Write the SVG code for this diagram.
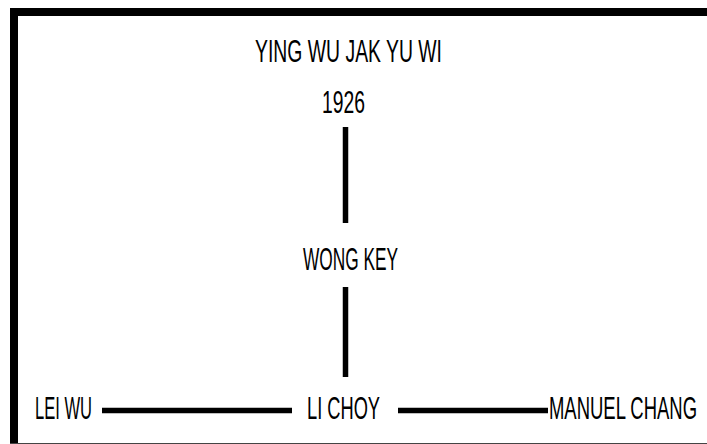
<svg xmlns="http://www.w3.org/2000/svg" width="707" height="444" viewBox="0 0 707 444">
<style>
.t{font-family:"Liberation Sans","DejaVu Sans",sans-serif;font-size:31px;fill:#000}
.c{stroke:#000;stroke-width:5.5;fill:none}
</style>
<rect x="0" y="0" width="707" height="444" fill="#fff"/>
<g id="frame">
<rect x="10" y="8" width="697" height="8" fill="#000"/>
<rect x="10" y="8" width="8" height="436" fill="#000"/>
<line x1="10" y1="443.5" x2="707" y2="443.5" stroke="#444" stroke-width="1"/>
</g>
<g id="connectors">
<line class="c" x1="345.5" y1="127" x2="345.5" y2="223"/>
<line class="c" x1="345.5" y1="287" x2="345.5" y2="377"/>
<line class="c" x1="102" y1="410.5" x2="292" y2="410.5"/>
<line class="c" x1="398" y1="410.5" x2="548" y2="410.5"/>
</g>
<g id="ying"><text class="t" x="255" y="62" textLength="187" lengthAdjust="spacingAndGlyphs">YING WU JAK YU WI</text></g>
<g id="year"><text class="t" x="322" y="113" textLength="43" lengthAdjust="spacingAndGlyphs">1926</text></g>
<g id="wongkey"><text class="t" x="303" y="270" textLength="95" lengthAdjust="spacingAndGlyphs">WONG KEY</text></g>
<g id="leiwu"><text class="t" x="35" y="419" textLength="57" lengthAdjust="spacingAndGlyphs">LEI WU</text></g>
<g id="lichoy"><text class="t" x="307" y="419" textLength="73" lengthAdjust="spacingAndGlyphs">LI CHOY</text></g>
<g id="manuel"><text class="t" x="549" y="419" textLength="148" lengthAdjust="spacingAndGlyphs">MANUEL CHANG</text></g>
</svg>
